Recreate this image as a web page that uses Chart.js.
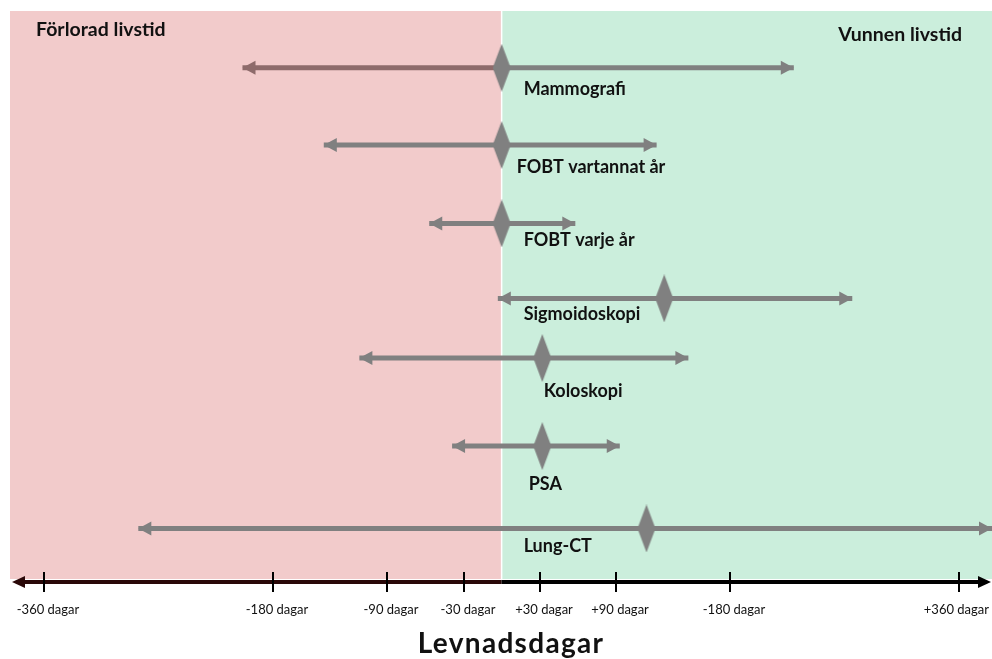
<!DOCTYPE html>
<html>
<head>
<meta charset="utf-8">
<script src="https://cdn.jsdelivr.net/npm/chart.js@4.4.1/dist/chart.umd.min.js"></script>
<style>
  html, body { margin: 0; padding: 0; background: #fff; }
  #wrap { width: 992px; height: 659px; position: relative; }
</style>
</head>
<body>
<div id="wrap"><canvas id="chart"></canvas></div>
<script>
// screening methods, top to bottom
const categories = ['Mammografi', 'FOBT vartannat år', 'FOBT varje år', 'Sigmoidoskopi', 'Koloskopi', 'PSA', 'Lung-CT'];
// days of life lost (low end), point estimate, days gained (high end)
const lowValues  = [-204, -140, -57, -3, -112, -39, -286];
const midValues  = [0, 0, 0, 128, 32, 32, 114];
const highValues = [230, 122, 58, 276, 147, 93, 386];

const tickValues = [-360, -180, -90, -30, 30, 90, 180, 360];
const tickLabels = ['-360 dagar', '-180 dagar', '-90 dagar', '-30 dagar', '+30 dagar', '+90 dagar', '-180 dagar', '+360 dagar'];

// layout only: vertical placement of each row and its label
const rowPos = [10.0, 23.6, 37.4, 50.6, 61.1, 76.6, 91.1];
const labelOffX = [22, 15, 22, 22, 42, 27, 22];
const labelOffY = [21, 22, 17, 16, 33, 38, 18];

const GRAY = '#808080';
const leftShaftColors = ['#8e6b6b', GRAY, GRAY, GRAY, GRAY, GRAY, GRAY];
const FONT = 'Lato, "Open Sans", sans-serif';

// tall thin diamond used as the point marker
function makeDiamond(w, h) {
  const c = document.createElement('canvas');
  c.width = w; c.height = h;
  const g = c.getContext('2d');
  g.fillStyle = GRAY;
  g.beginPath();
  g.moveTo(w / 2, 0);
  g.lineTo(w, h / 2);
  g.lineTo(w / 2, h);
  g.lineTo(0, h / 2);
  g.closePath();
  g.fill();
  return c;
}
const diamond = makeDiamond(18, 48);

const shaftSets = categories.map((name, i) => ({
  label: name,
  type: 'line',
  data: [
    { x: lowValues[i], y: rowPos[i] },
    { x: midValues[i], y: rowPos[i] },
    { x: highValues[i], y: rowPos[i] }
  ],
  borderColor: GRAY,
  borderWidth: 5,
  borderCapStyle: 'butt',
  pointRadius: 0,
  clip: false,
  segment: {
    borderColor: ctx => ctx.p0DataIndex === 0 ? leftShaftColors[i] : GRAY
  },
  order: 2
}));

const pointSet = {
  label: 'estimate',
  type: 'scatter',
  data: categories.map((c, i) => ({ x: midValues[i], y: rowPos[i] })),
  pointStyle: diamond,
  pointRadius: 10,
  clip: false,
  order: 0
};

const decorations = {
  id: 'decorations',
  beforeDatasetsDraw(chart) {
    const { ctx, chartArea: a, scales: { x } } = chart;
    const x0 = x.getPixelForValue(0);
    ctx.save();
    ctx.fillStyle = '#f2cbcb';
    ctx.fillRect(a.left, a.top, x0 - a.left, a.bottom - a.top);
    ctx.fillStyle = '#cbeedc';
    ctx.fillRect(x0, a.top, a.right - x0, a.bottom - a.top);
    ctx.strokeStyle = '#ffffff';
    ctx.lineWidth = 1.5;
    ctx.beginPath();
    ctx.moveTo(x0, a.top);
    ctx.lineTo(x0, a.bottom);
    ctx.stroke();

    ctx.fillStyle = '#111';
    ctx.font = 'bold 19.5px ' + FONT;
    ctx.textBaseline = 'middle';
    ctx.textAlign = 'left';
    ctx.fillText('Förlorad livstid', 36, 30);
    ctx.textAlign = 'right';
    ctx.fillText('Vunnen livstid', 962, 35);
    ctx.restore();
  },
  afterDatasetsDraw(chart) {
    const { ctx, scales: { x, y } } = chart;
    ctx.save();
    // arrowheads at both ends of each interval
    categories.forEach((c, i) => {
      const py = y.getPixelForValue(rowPos[i]);
      const lx = x.getPixelForValue(lowValues[i]);
      const hx = x.getPixelForValue(highValues[i]);
      ctx.fillStyle = leftShaftColors[i];
      ctx.beginPath();
      ctx.moveTo(lx, py);
      ctx.lineTo(lx + 13, py - 7);
      ctx.lineTo(lx + 13, py + 7);
      ctx.closePath();
      ctx.fill();
      ctx.fillStyle = GRAY;
      ctx.beginPath();
      ctx.moveTo(hx, py);
      ctx.lineTo(hx - 13, py - 7);
      ctx.lineTo(hx - 13, py + 7);
      ctx.closePath();
      ctx.fill();
    });
    ctx.restore();
  },
  afterDraw(chart) {
    const { ctx, chartArea: a, scales: { x, y } } = chart;
    const x0 = x.getPixelForValue(0);
    ctx.save();

    // row labels
    ctx.fillStyle = '#111';
    ctx.font = 'bold 18px ' + FONT;
    ctx.textAlign = 'left';
    ctx.textBaseline = 'middle';
    categories.forEach((c, i) => {
      const py = y.getPixelForValue(rowPos[i]);
      ctx.fillText(c, x0 + labelOffX[i], py + labelOffY[i]);
    });

    // bottom axis with arrows
    const ay = a.bottom + 3;
    ctx.lineWidth = 4;
    ctx.strokeStyle = '#2a0808';
    ctx.beginPath();
    ctx.moveTo(22, ay);
    ctx.lineTo(x0, ay);
    ctx.stroke();
    ctx.strokeStyle = '#000';
    ctx.beginPath();
    ctx.moveTo(x0, ay);
    ctx.lineTo(980, ay);
    ctx.stroke();
    ctx.fillStyle = '#2a0808';
    ctx.beginPath();
    ctx.moveTo(12, ay);
    ctx.lineTo(25, ay - 6);
    ctx.lineTo(25, ay + 6);
    ctx.closePath();
    ctx.fill();
    ctx.fillStyle = '#000';
    ctx.beginPath();
    ctx.moveTo(991, ay);
    ctx.lineTo(978, ay - 6);
    ctx.lineTo(978, ay + 6);
    ctx.closePath();
    ctx.fill();

    ctx.lineWidth = 2;
    ctx.strokeStyle = '#000';
    ctx.font = '13px ' + FONT;
    ctx.textAlign = 'center';
    ctx.fillStyle = '#111';
    tickValues.forEach((v, i) => {
      const px = Math.round(x.getPixelForValue(v));
      ctx.beginPath();
      ctx.moveTo(px, ay - 10);
      ctx.lineTo(px, ay + 10);
      ctx.stroke();
      const half = ctx.measureText(tickLabels[i]).width / 2;
      const cx = Math.min(px + 4, 989 - half);
      ctx.fillText(tickLabels[i], cx, ay + 28);
    });

    ctx.font = 'bold 28px ' + FONT;
    ctx.letterSpacing = '1.3px';
    ctx.textBaseline = 'alphabetic';
    ctx.fillText('Levnadsdagar', 511, 653);
    ctx.restore();
  }
};

new Chart(document.getElementById('chart'), {
  data: { datasets: [...shaftSets, pointSet] },
  options: {
    responsive: true,
    maintainAspectRatio: false,
    animation: false,
    layout: { autoPadding: false, padding: { left: 10, top: 11, right: 0, bottom: 80 } },
    plugins: { legend: { display: false }, tooltip: { enabled: false } },
    scales: {
      x: { type: 'linear', min: -387, max: 386, display: false },
      y: { type: 'linear', min: 0, max: 100, reverse: true, display: false }
    }
  },
  plugins: [decorations]
});
</script>
</body>
</html>
